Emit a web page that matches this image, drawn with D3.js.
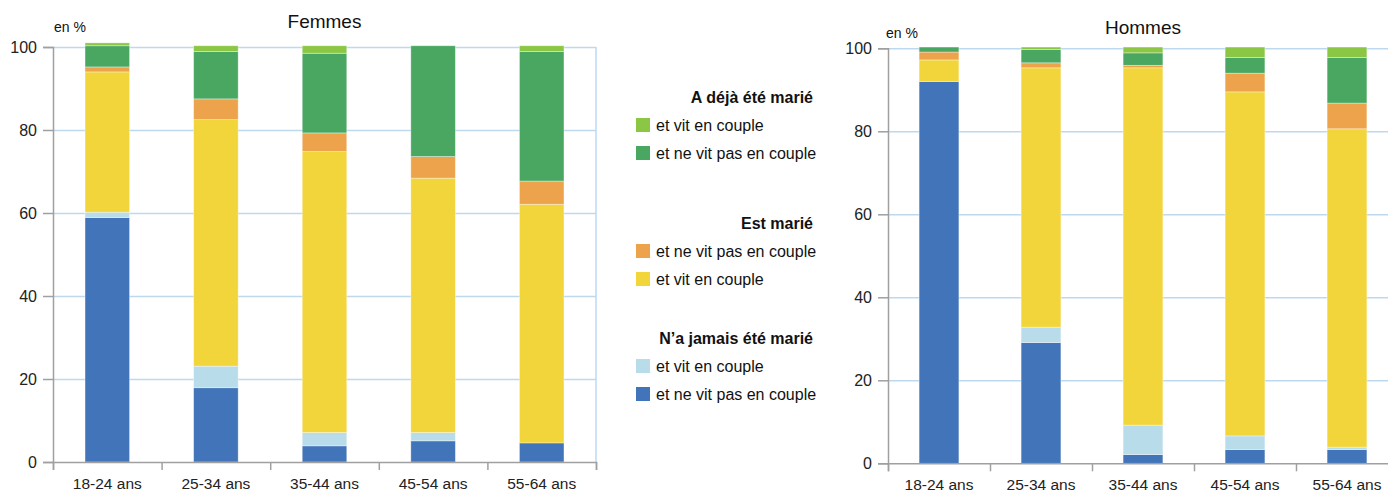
<!DOCTYPE html>
<html>
<head>
<meta charset="utf-8">
<script src="https://cdn.jsdelivr.net/npm/d3@7"></script>
<style>
  body { margin: 0; background: #fff; }
  svg { font-family: "Liberation Sans", Arial, sans-serif; }
</style>
</head>
<body>
<svg id="chart" width="1388" height="494"></svg>
<script>
const ages = ["18-24 ans", "25-34 ans", "35-44 ans", "45-54 ans", "55-64 ans"];
const yTicks = [0, 20, 40, 60, 80, 100];

// Femmes, from bottom to top
const fJamaisSeul   = [58.9, 17.9, 3.9, 5.1, 4.6];
const fJamaisCouple = [1.3, 5.2, 3.2, 2.0, 0];
const fMarieCouple  = [33.8, 59.4, 67.7, 61.3, 57.5];
const fMarieSeul    = [1.2, 5.0, 4.5, 5.2, 5.6];
const fDejaSeul     = [5.1, 11.4, 19.2, 26.7, 31.2];
const fDejaCouple   = [0.7, 1.4, 1.8, 0, 1.4];

// Hommes
const hJamaisSeul   = [92.0, 29.1, 2.1, 3.3, 3.3];
const hJamaisCouple = [0, 3.7, 7.1, 3.3, 0.6];
const hMarieCouple  = [5.2, 62.5, 86.1, 82.9, 76.7];
const hMarieSeul    = [1.9, 1.2, 0.6, 4.5, 6.2];
const hDejaSeul     = [1.2, 3.2, 3.0, 3.8, 11.0];
const hDejaCouple   = [0, 0.6, 1.4, 2.5, 2.5];

const keys = ["jamaisSeul", "jamaisCouple", "marieCouple", "marieSeul", "dejaSeul", "dejaCouple"];
const colors = {
  jamaisSeul: "#4174b8",
  jamaisCouple: "#b8dcea",
  marieCouple: "#f2d53b",
  marieSeul: "#eca34c",
  dejaSeul: "#4aa761",
  dejaCouple: "#8bc744"
};

const legendGroups = [
  { title: "A déjà été marié", items: [["dejaCouple", "et vit en couple"], ["dejaSeul", "et ne vit pas en couple"]] },
  { title: "Est marié", items: [["marieSeul", "et ne vit pas en couple"], ["marieCouple", "et vit en couple"]] },
  { title: "N\u2019a jamais été marié", items: [["jamaisCouple", "et vit en couple"], ["jamaisSeul", "et ne vit pas en couple"]] }
];

function rows(a, b, c, d, e, f) {
  return ages.map((age, i) => ({
    age, jamaisSeul: a[i], jamaisCouple: b[i], marieCouple: c[i],
    marieSeul: d[i], dejaSeul: e[i], dejaCouple: f[i]
  }));
}

const panels = [
  { title: "Femmes", data: rows(fJamaisSeul, fJamaisCouple, fMarieCouple, fMarieSeul, fDejaSeul, fDejaCouple),
    left: 53, right: 596, top: 47, bottom: 462, pad: 0.59, titleY: 28, unitX: 54, unitY: 32, border: true },
  { title: "Hommes", data: rows(hJamaisSeul, hJamaisCouple, hMarieCouple, hMarieSeul, hDejaSeul, hDejaCouple),
    left: 888, right: 1398, top: 48.3, bottom: 463.3, pad: 0.61, titleY: 34, unitX: 886, unitY: 38, border: false }
];

const svg = d3.select("#chart");
const stack = d3.stack().keys(keys);

panels.forEach(p => {
  const g = svg.append("g");

  const x = d3.scaleBand()
    .domain(ages)
    .range([p.left, p.right])
    .paddingInner(p.pad)
    .paddingOuter(p.pad / 2);

  const y = d3.scaleLinear()
    .domain([0, 100])
    .range([p.bottom, p.top]);

  // gridlines
  g.append("g")
    .attr("transform", `translate(${p.left},0)`)
    .call(d3.axisLeft(y).tickValues(yTicks.slice(1)).tickSize(-(p.right - p.left)).tickFormat(""))
    .call(s => s.select(".domain").remove())
    .call(s => s.selectAll("line").attr("stroke", "#bdd9f0").attr("stroke-width", 1.5));

  if (p.border) {
    g.append("line")
      .attr("x1", p.right).attr("x2", p.right)
      .attr("y1", p.top).attr("y2", p.bottom)
      .attr("stroke", "#bdd9f0").attr("stroke-width", 1.5);
  }

  // bars
  const series = stack(p.data);
  g.append("g")
    .selectAll("g")
    .data(series)
    .join("g")
    .attr("fill", d => colors[d.key])
    .selectAll("rect")
    .data(d => d)
    .join("rect")
    .attr("x", d => x(d.data.age))
    .attr("width", x.bandwidth())
    .attr("y", d => y(d[1]))
    .attr("height", d => y(d[0]) - y(d[1]))
    .attr("stroke", "rgba(255,255,255,0.45)")
    .attr("stroke-width", 0.8);

  // y axis
  g.append("g")
    .attr("transform", `translate(${p.left},0)`)
    .call(d3.axisLeft(y).tickValues(yTicks).tickSize(10).tickPadding(6))
    .call(s => s.select(".domain").attr("stroke", "#a0a0a0").attr("stroke-width", 1.5))
    .call(s => s.selectAll("line").attr("stroke", "#a0a0a0").attr("stroke-width", 1.5))
    .call(s => s.selectAll("text").attr("font-size", 16).attr("fill", "#222").attr("font-family", "Liberation Sans, Arial"));

  // x axis: ticks at category boundaries
  const xb = d3.scaleLinear().domain([0, ages.length]).range([p.left, p.right]);
  g.append("g")
    .attr("transform", `translate(0,${p.bottom})`)
    .call(d3.axisBottom(xb).tickValues(d3.range(ages.length + 1)).tickSize(8).tickFormat(""))
    .call(s => s.select(".domain").attr("stroke", "#a0a0a0").attr("stroke-width", 1.5))
    .call(s => s.selectAll("line").attr("stroke", "#a0a0a0").attr("stroke-width", 1.5));

  g.append("g")
    .attr("transform", `translate(0,${p.bottom})`)
    .call(d3.axisBottom(x).tickSize(0).tickPadding(16))
    .call(s => s.select(".domain").remove())
    .call(s => s.selectAll("text").attr("font-size", 15.5).attr("fill", "#222").attr("font-family", "Liberation Sans, Arial"));

  // titles
  g.append("text")
    .attr("x", (p.left + p.left + 5 * x.step()) / 2)
    .attr("y", p.titleY)
    .attr("text-anchor", "middle")
    .attr("font-size", 19)
    .attr("fill", "#111")
    .text(p.title);

  g.append("text")
    .attr("x", p.unitX)
    .attr("y", p.unitY)
    .attr("font-size", 14)
    .attr("fill", "#111")
    .text("en %");
});

// legend
const legend = svg.append("g");
const headerY = [97, 223, 338];
legendGroups.forEach((grp, gi) => {
  legend.append("text")
    .attr("x", 813)
    .attr("y", headerY[gi] + 6)
    .attr("text-anchor", "end")
    .attr("font-size", 16)
    .attr("font-weight", "bold")
    .attr("fill", "#111")
    .text(grp.title);

  grp.items.forEach(([key, label], ii) => {
    const cy = headerY[gi] + 28 + ii * 28;
    legend.append("rect")
      .attr("x", 636).attr("y", cy - 7)
      .attr("width", 14).attr("height", 14)
      .attr("fill", colors[key]);
    legend.append("text")
      .attr("x", 656).attr("y", cy + 6)
      .attr("font-size", 16)
      .attr("fill", "#111")
      .text(label);
  });
});
</script>
</body>
</html>
